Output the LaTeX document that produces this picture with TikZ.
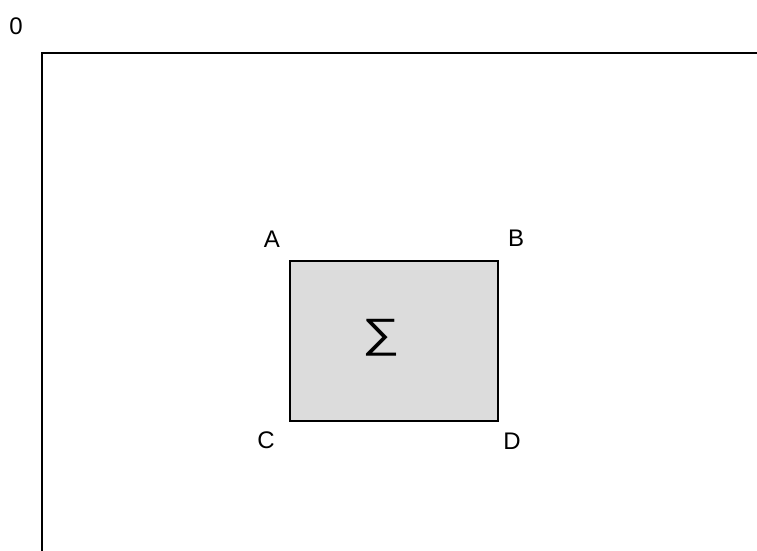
\documentclass[tikz,border=0pt]{standalone}
\usepackage{fontspec}
\setmainfont{Liberation Sans}
\definecolor{boxgray}{HTML}{DCDCDC}
\tikzset{
  lbl/.style={font=\fontsize{24}{24}\selectfont, inner sep=0pt},
  axis/.style={draw=black, line width=1.6pt},
  sigbox/.style={draw=black, fill=boxgray, line width=1.6pt}
}
\begin{document}
\begin{tikzpicture}[x=1pt,y=-1pt]
\useasboundingbox (0,0) rectangle (757,550);
\coordinate (o) at (42,53);
\coordinate (right) at (757,53);
\coordinate (down) at (42,551);
\draw[axis] (right) -- (o) -- (down);
\node[lbl] (zero) at (16,26) {0};
\coordinate (a) at (290,261);
\coordinate (d) at (498,421);
\path[sigbox] (a) rectangle (d);
\node[inner sep=0pt, font=\fontsize{41}{41}\selectfont] (sig) at (381,338) {\scalebox{1.28}[1]{∑}};
\node[lbl] (A) at (272,239) {A};
\node[lbl] (B) at (516,238) {B};
\node[lbl] (C) at (266,440) {C};
\node[lbl] (D) at (512,441) {D};
\end{tikzpicture}
\end{document}
